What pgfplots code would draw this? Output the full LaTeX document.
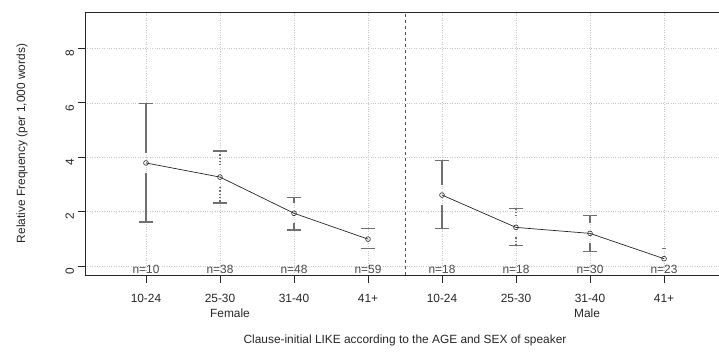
\documentclass[border=0pt]{standalone}
\usepackage{pgfplots}
\pgfplotsset{compat=1.18}
\usepackage{fontspec}
\setmainfont{Liberation Sans}
\definecolor{txt}{HTML}{262626}
\definecolor{ntxt}{HTML}{4A4A4A}
\definecolor{errc}{HTML}{707070}
\definecolor{gridc}{HTML}{C8C8C8}
\begin{document}
\begin{tikzpicture}
\path[use as bounding box] (0,0) rectangle (719pt,351pt);
\begin{axis}[
  at={(85pt,76pt)}, anchor=south west,
  scale only axis,
  width=640pt, height=263pt,
  xmin=0.176, xmax=8.824,
  ymin=-0.33, ymax=9.34,
  clip=false,
  /pgf/number format/assume math mode=true,
  font=\fontsize{11.9}{13.5}\selectfont,
  every tick label/.append style={font=\fontsize{11.9}{13.5}\selectfont},
  axis line style={draw=txt, line width=0.8pt},
  xtick={1,2,3,4,5,6,7,8},
  xticklabels={10-24,25-30,31-40,41+,10-24,25-30,31-40,41+},
  ytick={0,2,4,6,8},
  yticklabels={0,2,4,6,8},
  tick align=outside,
  tick pos=left,
  major tick length=7.5pt,
  tick style={draw=txt, line width=0.8pt},
  grid=major,
  major grid style={gridc, dotted, line width=0.6pt},
  xticklabel style={text=txt, yshift=-8pt},
  yticklabel style={text=txt, rotate=90, anchor=south, xshift=-5pt},
  every axis x label/.style={at={(rel axis cs:0.5,0)}, anchor=center, yshift=-65pt},
  every axis y label/.style={at={(rel axis cs:0,0.5)}, xshift=-63pt, rotate=90, anchor=center},
  xlabel={\color{txt}Clause-initial LIKE according to the AGE and SEX of speaker},
  ylabel={\color{txt}Relative Frequency (per 1,000 words)},
]
% separator
\addplot[draw=txt!80, dashed, line width=0.8pt, forget plot] coordinates {(4.5,-0.33) (4.5,9.34)};
% error bars (solid)
\addplot[draw=errc, line width=1.3pt, mark=none, unbounded coords=jump] coordinates {
 (1,5.97) (1,4.16) (1,nan) (1,3.42) (1,1.62) (1,nan)
 (3,2.53) (3,2.31) (3,nan) (3,1.57) (3,1.32) (3,nan)
 (5,3.87) (5,2.98) (5,nan) (5,2.24) (5,1.37) (5,nan)
 (7,1.85) (7,1.57) (7,nan) (7,0.83) (7,0.53)
};
% error bars (dotted)
\addplot[draw=errc, line width=1.3pt, dotted, mark=none, unbounded coords=jump] coordinates {
 (2,4.23) (2,3.64) (2,nan) (2,2.90) (2,2.32) (2,nan)
 (6,2.12) (6,1.79) (6,nan) (6,1.05) (6,0.75)
};
% caps
\addplot[draw=errc, line width=1.3pt, mark=none, unbounded coords=jump] coordinates {
 (0.9,5.97) (1.1,5.97) (1,nan) (0.9,1.62) (1.1,1.62) (1,nan)
 (1.9,4.23) (2.1,4.23) (2,nan) (1.9,2.32) (2.1,2.32) (2,nan)
 (2.9,2.53) (3.1,2.53) (3,nan) (2.9,1.32) (3.1,1.32) (3,nan)
 (3.9,1.37) (4.1,1.37) (4,nan) (3.9,0.65) (4.1,0.65) (4,nan)
 (4.9,3.87) (5.1,3.87) (5,nan) (4.9,1.37) (5.1,1.37) (5,nan)
 (5.9,2.12) (6.1,2.12) (6,nan) (5.9,0.75) (6.1,0.75) (6,nan)
 (6.9,1.85) (7.1,1.85) (7,nan) (6.9,0.53) (7.1,0.53) (7,nan)
 (7.97,0.64) (8.03,0.64)
};
% means
\addplot[draw=txt, line width=0.7pt, mark=o, mark size=2.4pt, mark options={fill=white, draw=txt, line width=0.6pt}] coordinates {
 (1,3.79) (2,3.27) (3,1.94) (4,0.99)
};
\addplot[draw=txt, line width=0.7pt, mark=o, mark size=2.4pt, mark options={fill=white, draw=txt, line width=0.6pt}] coordinates {
 (5,2.61) (6,1.42) (7,1.20) (8,0.27)
};
% n labels
\node[text=ntxt] at (axis cs:1,-0.13) {n=10};
\node[text=ntxt] at (axis cs:2,-0.13) {n=38};
\node[text=ntxt] at (axis cs:3,-0.13) {n=48};
\node[text=ntxt] at (axis cs:4,-0.13) {n=59};
\node[text=ntxt] at (axis cs:5,-0.13) {n=18};
\node[text=ntxt] at (axis cs:6,-0.13) {n=18};
\node[text=ntxt] at (axis cs:7,-0.13) {n=30};
\node[text=ntxt] at (axis cs:8,-0.13) {n=23};
% group labels
\node[text=txt] at (axis cs:2.135,-0.33) [yshift=-38pt] {Female};
\node[text=txt] at (axis cs:6.96,-0.33) [yshift=-38pt] {Male};
\end{axis}
\end{tikzpicture}
\end{document}
